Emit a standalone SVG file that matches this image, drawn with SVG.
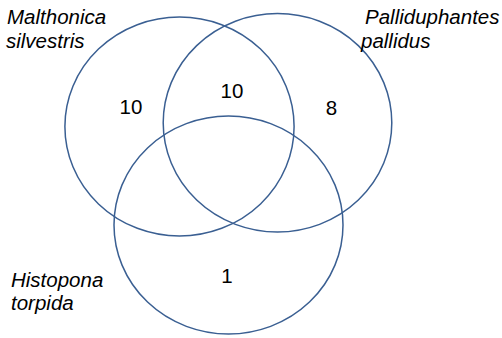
<svg xmlns="http://www.w3.org/2000/svg" width="502" height="338" viewBox="0 0 502 338">
<style>
.c{fill:none;stroke:#3A5F92;stroke-width:1.5}
.lab{font-family:"Liberation Sans",Arial,sans-serif;font-size:20.5px;font-style:italic;fill:#000}
.num{font-family:"Liberation Sans",Arial,sans-serif;font-size:20.5px;fill:#000;text-anchor:middle}
</style>
<rect width="502" height="338" fill="#fff"/>
<g id="set-malthonica">
<ellipse class="c" cx="179.5" cy="126.5" rx="114.6" ry="109.5"/>
<text class="lab" x="7" y="24">Malthonica</text>
<text class="lab" x="6" y="48">silvestris</text>
</g>
<g id="set-palliduphantes">
<ellipse class="c" cx="277.5" cy="122.8" rx="114.3" ry="109.2"/>
<text class="lab" x="365" y="24">Palliduphantes</text>
<text class="lab" x="361" y="48">pallidus</text>
</g>
<g id="set-histopona">
<ellipse class="c" cx="228.5" cy="225" rx="114.5" ry="109"/>
<text class="lab" x="11" y="287">Histopona</text>
<text class="lab" x="11" y="310">torpida</text>
</g>
<g id="counts">
<text class="num" x="131" y="114">10</text>
<text class="num" x="232" y="98">10</text>
<text class="num" x="331.5" y="115">8</text>
<text class="num" x="227" y="283">1</text>
</g>
<g id="connectors"></g>
</svg>
